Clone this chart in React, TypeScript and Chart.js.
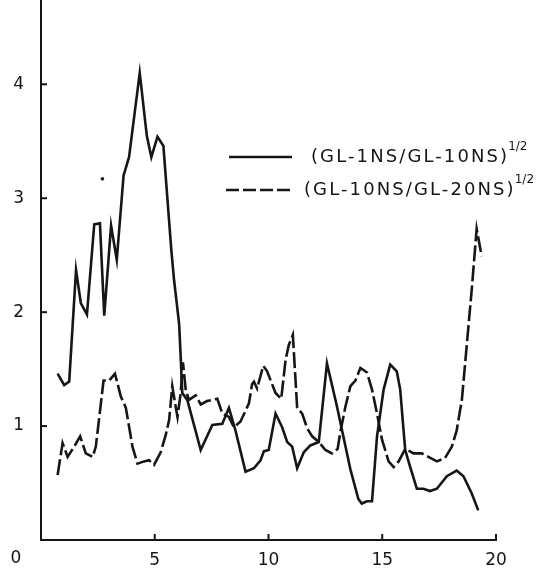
import React, { useEffect, useRef } from 'react';
import { Chart, registerables } from 'chart.js';

Chart.register(...registerables);

// (GL-1NS/GL-10NS)^1/2  — solid curve
const solidX = [0.73, 1.02, 1.24, 1.54, 1.75, 2.02, 2.34, 2.59, 2.78, 3.08, 3.33, 3.63, 3.87, 4.34, 4.65, 4.85, 5.12, 5.38, 5.73, 5.85, 6.07, 6.14, 6.21, 6.43, 7.02, 7.53, 7.97, 8.26, 8.55, 8.99, 9.36, 9.65, 9.8, 10.01, 10.31, 10.6, 10.82, 11.04, 11.26, 11.55, 11.84, 12.21, 12.57, 13.0, 13.6, 13.95, 14.1, 14.33, 14.55, 14.77, 15.06, 15.35, 15.64, 15.79, 15.9, 16.01, 16.23, 16.52, 16.81, 17.1, 17.4, 17.84, 18.27, 18.57, 18.93, 19.22];
const solidY = [1.46, 1.36, 1.39, 2.37, 2.08, 1.98, 2.77, 2.78, 1.97, 2.76, 2.46, 3.2, 3.36, 4.1, 3.55, 3.36, 3.54, 3.46, 2.54, 2.28, 1.9, 1.61, 1.29, 1.23, 0.79, 1.01, 1.02, 1.16, 0.96, 0.6, 0.63, 0.7, 0.78, 0.79, 1.11, 0.99, 0.86, 0.82, 0.63, 0.77, 0.83, 0.86, 1.55, 1.18, 0.62, 0.36, 0.32, 0.34, 0.34, 0.91, 1.32, 1.54, 1.48, 1.32, 1.05, 0.79, 0.64, 0.45, 0.45, 0.43, 0.45, 0.56, 0.61, 0.56, 0.41, 0.26];

// (GL-10NS/GL-20NS)^1/2 — dashed curve
const dashedX = [0.73, 0.95, 1.17, 1.46, 1.72, 1.97, 2.27, 2.41, 2.75, 3.0, 3.25, 3.51, 3.73, 4.02, 4.24, 4.53, 4.75, 4.97, 5.26, 5.48, 5.63, 5.77, 5.92, 6.0, 6.14, 6.24, 6.36, 6.5, 6.8, 7.02, 7.3, 7.75, 7.97, 8.26, 8.48, 8.77, 9.14, 9.28, 9.36, 9.5, 9.77, 9.94, 10.31, 10.56, 10.75, 10.89, 11.07, 11.26, 11.48, 11.7, 11.92, 12.21, 12.5, 12.79, 13.04, 13.16, 13.38, 13.6, 13.82, 14.04, 14.33, 14.55, 14.77, 14.99, 15.28, 15.5, 15.72, 16.01, 16.37, 16.74, 17.03, 17.4, 17.76, 18.06, 18.27, 18.5, 18.71, 18.93, 19.15, 19.37];
const dashedY = [0.57, 0.85, 0.73, 0.82, 0.91, 0.76, 0.73, 0.82, 1.4, 1.4, 1.46, 1.26, 1.16, 0.82, 0.67, 0.69, 0.7, 0.66, 0.77, 0.92, 1.05, 1.35, 1.17, 1.08, 1.29, 1.56, 1.32, 1.23, 1.27, 1.19, 1.22, 1.24, 1.11, 1.08, 0.99, 1.04, 1.2, 1.37, 1.39, 1.33, 1.53, 1.48, 1.29, 1.24, 1.58, 1.71, 1.8, 1.16, 1.11, 0.98, 0.91, 0.86, 0.79, 0.76, 0.8, 0.95, 1.17, 1.35, 1.4, 1.51, 1.47, 1.32, 1.11, 0.88, 0.69, 0.64, 0.69, 0.8, 0.76, 0.76, 0.73, 0.69, 0.72, 0.82, 0.96, 1.23, 1.7, 2.19, 2.73, 2.49];

// stray mark on the original plot
const markX = [2.7];
const markY = [3.17];

const xTickValues = [5, 10, 15, 20];
const xTickLabels = ['5', '10', '15', '20'];
const yTickValues = [1, 2, 3, 4];
const yTickLabels = ['1', '2', '3', '4'];
const originLabel = '0';
const legendLabels = ['(GL-1NS/GL-10NS)', '(GL-10NS/GL-20NS)'];
const legendSuperscript = '1/2';

const INK = '#161616';
const FONT = '"DejaVu Sans", sans-serif';

const toPoints = (xs: number[], ys: number[]) => xs.map((x, i) => ({ x, y: ys[i] }));

const decorPlugin = {
  id: 'decor',
  afterDraw(chart: any) {
    const { ctx, chartArea, scales } = chart;
    const xs = scales.x;
    const ys = scales.y;
    ctx.save();
    ctx.strokeStyle = INK;
    ctx.fillStyle = INK;
    ctx.lineWidth = 2;
    // inward tick marks
    yTickValues.forEach((v) => {
      const py = ys.getPixelForValue(v);
      ctx.beginPath();
      ctx.moveTo(chartArea.left, py);
      ctx.lineTo(chartArea.left + 6, py);
      ctx.stroke();
    });
    xTickValues.forEach((v) => {
      const px = xs.getPixelForValue(v);
      ctx.beginPath();
      ctx.moveTo(px, chartArea.bottom);
      ctx.lineTo(px, chartArea.bottom - 6);
      ctx.stroke();
    });
    // origin label
    ctx.font = '17px ' + FONT;
    ctx.textAlign = 'center';
    ctx.textBaseline = 'middle';
    ctx.fillText(originLabel, 16, 559);

    // legend
    const rows = [
      { y: 157, x0: 229, x1: 292, dash: [] as number[], tx: 311 },
      { y: 190, x0: 226, x1: 292, dash: [13, 4], tx: 304 },
    ];
    rows.forEach((r, i) => {
      ctx.lineWidth = 2.4;
      ctx.setLineDash(r.dash);
      ctx.beginPath();
      ctx.moveTo(r.x0, r.y);
      ctx.lineTo(r.x1, r.y);
      ctx.stroke();
      ctx.setLineDash([]);
      ctx.font = '18px ' + FONT;
      ctx.textAlign = 'left';
      ctx.textBaseline = 'middle';
      try { (ctx as any).letterSpacing = '2.1px'; } catch (e) {}
      ctx.fillText(legendLabels[i], r.tx, r.y);
      const w = ctx.measureText(legendLabels[i]).width;
      try { (ctx as any).letterSpacing = '0px'; } catch (e) {}
      ctx.font = '12px ' + FONT;
      ctx.fillText(legendSuperscript, r.tx + w - 1, r.y - 10);
    });
    ctx.restore();
  },
};

export default function App() {
  const ref = useRef<HTMLCanvasElement | null>(null);
  useEffect(() => {
    if (!ref.current) return;
    const chart = new Chart(ref.current, {
      type: 'line',
      data: {
        datasets: [
          {
            label: legendLabels[0],
            data: toPoints(solidX, solidY),
            borderColor: INK,
            borderWidth: 2.6,
            pointRadius: 0,
            tension: 0,
            fill: false,
          },
          {
            label: legendLabels[1],
            data: toPoints(dashedX, dashedY),
            borderColor: INK,
            borderWidth: 2.6,
            borderDash: [16, 4],
            pointRadius: 0,
            tension: 0,
            fill: false,
          },
          {
            label: 'mark',
            data: toPoints(markX, markY),
            showLine: false,
            pointRadius: 1.8,
            pointBackgroundColor: INK,
            pointBorderWidth: 0,
          },
        ],
      },
      options: {
        responsive: false,
        animation: false,
        devicePixelRatio: 1,
        layout: { padding: { left: 0, right: 52, top: 0, bottom: 0 }, autoPadding: false },
        plugins: { legend: { display: false }, tooltip: { enabled: false } },
        scales: {
          x: {
            type: 'linear',
            min: 0,
            max: 20,
            afterBuildTicks: (s: any) => {
              s.ticks = xTickValues.map((v) => ({ value: v }));
            },
            afterFit: (s: any) => {
              s.height = 33;
              s.paddingLeft = 0;
              s.paddingRight = 0;
            },
            ticks: {
              autoSkip: false,
              maxRotation: 0,
              padding: 10,
              color: INK,
              font: { family: FONT, size: 17 },
              callback: (v: any) => {
                const i = xTickValues.indexOf(Number(v));
                return i >= 0 ? xTickLabels[i] : '';
              },
            },
            grid: { display: false, drawTicks: false },
            border: { display: true, color: INK, width: 2 },
          },
          y: {
            type: 'linear',
            min: 0,
            max: 4.74,
            afterBuildTicks: (s: any) => {
              s.ticks = yTickValues.map((v) => ({ value: v }));
            },
            afterFit: (s: any) => {
              s.width = 41;
              s.paddingTop = 0;
              s.paddingBottom = 0;
            },
            ticks: {
              autoSkip: false,
              padding: 17,
              color: INK,
              font: { family: FONT, size: 17 },
              callback: (v: any) => {
                const i = yTickValues.indexOf(Number(v));
                return i >= 0 ? yTickLabels[i] : '';
              },
            },
            grid: { display: false, drawTicks: false },
            border: { display: true, color: INK, width: 2 },
          },
        },
      },
      plugins: [decorPlugin],
    } as any);
    return () => chart.destroy();
  }, []);
  return (
    <div style={{ position: 'fixed', left: 0, top: 0, width: 548, height: 573, background: '#fff' }}>
      <canvas ref={ref} width={548} height={573} style={{ width: 548, height: 573, display: 'block' }} />
    </div>
  );
}
